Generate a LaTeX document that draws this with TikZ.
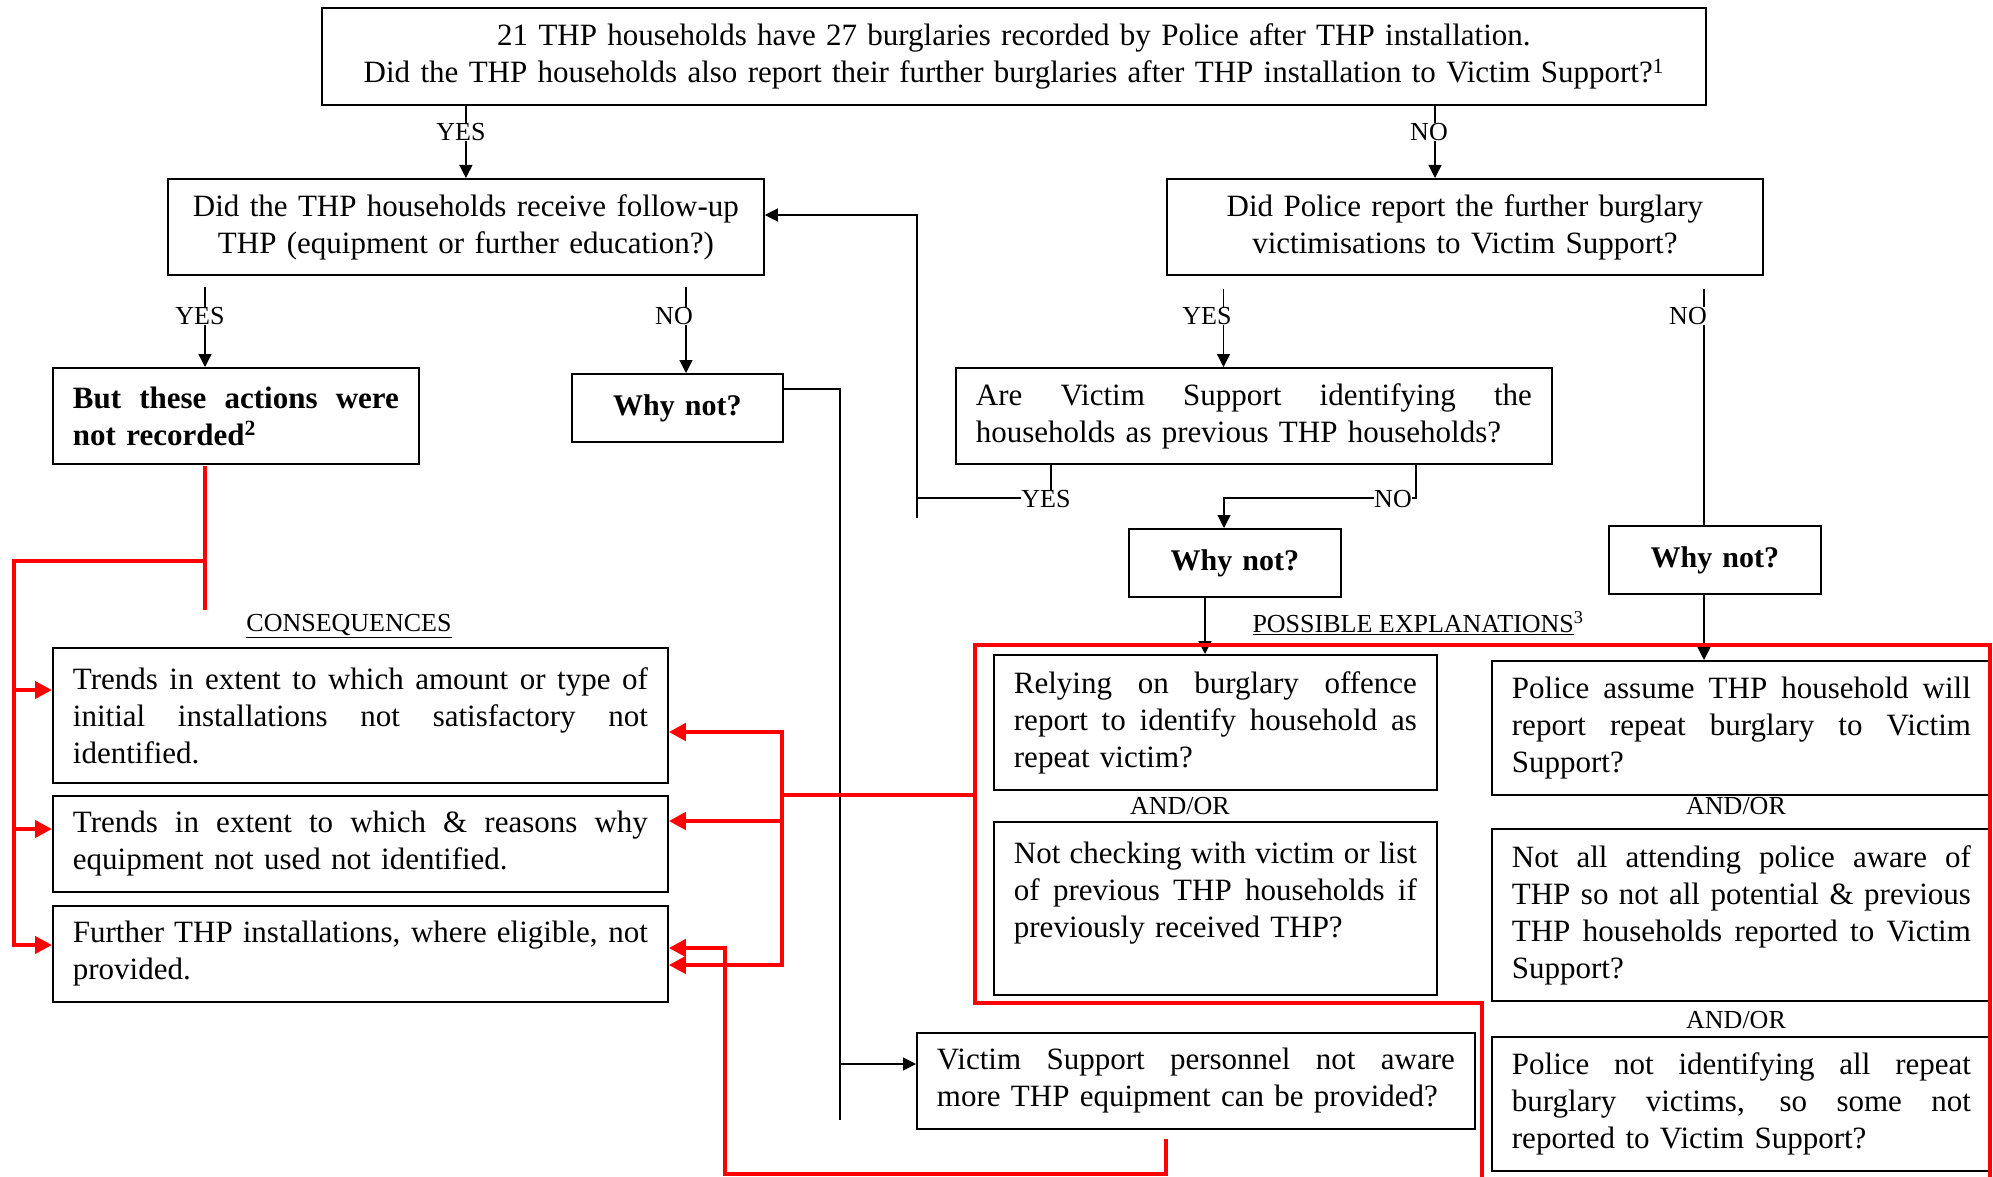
\documentclass[tikz,border=0pt]{standalone}
\usepackage{fontspec}
\setmainfont{Liberation Serif}
\usetikzlibrary{arrows.meta,calc}
\newcommand{\jl}[1]{{\spaceskip=0pt\xspaceskip=0pt\makebox[\linewidth][s]{#1}}}
\newcommand{\mfont}{\fontsize{31}{37}\selectfont}
\newcommand{\bfont}{\fontsize{30}{37}\selectfont\bfseries}
\newcommand{\lfont}{\fontsize{26}{30}\selectfont}
\definecolor{rd}{RGB}{255,0,0}
\tikzset{
  box/.style={draw, line width=1.8pt, inner xsep=20pt, inner ysep=0pt, anchor=north west, font=\mfont, align=left},
  cbox/.style={box, align=center},
  lbl/.style={font=\lfont, fill=white, inner sep=0pt},
  plbl/.style={font=\lfont, inner sep=0pt},
  conn/.style={line width=1.3pt},
  arr/.style={conn, -{Triangle[length=13pt,width=13pt]}},
  rline/.style={rd, line width=4.5pt, line cap=rect},
  rarr/.style={rd, line width=4.5pt, -{Triangle[length=17pt,width=17pt]}},
}
\begin{document}
\begin{tikzpicture}[x=1pt,y=-1pt]
\useasboundingbox (0,0) rectangle (1993,1177);
% ---- boxes
\node[cbox, text width=1344pt, minimum width=1384pt, minimum height=97pt] (top) at (321,7)
  {21 THP households have 27 burglaries recorded by Police after THP installation.\\Did the THP households also report their further burglaries after THP installation to Victim Support?\textsuperscript{1}};
\node[cbox, text width=556pt, minimum width=596pt, minimum height=96pt] (q2L) at (167,178)
  {Did the THP households receive follow-up\\THP (equipment or further education?)};
\node[cbox, text width=556pt, minimum width=596pt, minimum height=96pt] (q2R) at (1166,178)
  {Did Police report the further burglary\\victimisations to Victim Support?};
\node[box, font=\mfont\bfseries, text width=326pt, minimum width=366pt, minimum height=96pt] (but) at (52,367)
  {\jl{But these actions were}\\not recorded\textsuperscript{2}};
\node[cbox, font=\bfont, text width=171pt, minimum width=211pt, minimum height=68pt] (why1) at (571,373) {Why not?};
\node[box, text width=556pt, minimum width=596pt, minimum height=96pt] (are) at (955,367)
  {\jl{Are Victim Support identifying the}\\households as previous THP households?};
\node[cbox, font=\bfont, text width=172pt, minimum width=212pt, minimum height=68pt] (why2) at (1128,528) {Why not?};
\node[cbox, font=\bfont, text width=172pt, minimum width=212pt, minimum height=68pt] (why3) at (1608,525) {Why not?};
\node[box, text width=575pt, minimum width=615pt, minimum height=135pt] (t1) at (52,647)
  {\jl{Trends in extent to which amount or type of}\\\jl{initial installations not satisfactory not}\\identified.};
\node[box, text width=575pt, minimum width=615pt, minimum height=96pt] (t2) at (52,795)
  {\jl{Trends in extent to which \& reasons why}\\equipment not used not identified.};
\node[box, text width=575pt, minimum width=615pt, minimum height=96pt] (t3) at (52,905)
  {\jl{Further THP installations, where eligible, not}\\provided.};
\node[box, text width=403pt, minimum width=443pt, minimum height=135pt] (rel) at (993,654)
  {\jl{Relying on burglary offence}\\\jl{report to identify household as}\\repeat victim?};
\node[box, text width=403pt, minimum width=443pt, minimum height=173pt] (nc) at (993,821)
  {\jl{Not checking with victim or list}\\\jl{of previous THP households if}\\previously received THP?\\\mbox{}};
\node[box, text width=459pt, minimum width=499pt, minimum height=134pt] (pa) at (1491,660)
  {\jl{Police assume THP household will}\\\jl{report repeat burglary to Victim}\\Support?};
\node[box, text width=459pt, minimum width=499pt, minimum height=172pt] (na) at (1491,828)
  {\jl{Not all attending police aware of}\\\jl{THP so not all potential \& previous}\\\jl{THP households reported to Victim}\\Support?};
\node[box, text width=459pt, minimum width=499pt, minimum height=134pt] (pn) at (1491,1036)
  {\jl{Police not identifying all repeat}\\\jl{burglary victims, so some not}\\reported to Victim Support?};
\node[box, text width=518pt, minimum width=558pt, minimum height=96pt] (vs) at (916,1032)
  {\jl{Victim Support personnel not aware}\\more THP equipment can be provided?};
% ---- helper coordinates
\coordinate (xb) at (1435,0);
\coordinate (xc) at (205,0);
\coordinate (xd) at (686,0);
\coordinate (xe) at (1223.5,0);
\coordinate (xf) at (1704,0);
\coordinate (xg) at (1051,0);
\coordinate (xh) at (1416,0);
\coordinate (xi) at (917,518);
\coordinate (xj) at (1224,0);
\coordinate (xk) at (1205,0);
\coordinate (xl) at (840,1120);
\coordinate (r2) at (0,215);
\coordinate (r4) at (0,498);
\coordinate (r5) at (0,389);
\coordinate (r6) at (0,1064);
% ---- black connectors
\draw[arr] (q2L.north |- top.south) -- (q2L.north);
\draw[arr] (xb |- top.south) -- (xb |- q2R.north);
\draw[arr] (xc |- q2L.south) ++(0,11) -- (xc |- but.north);
\draw[arr] (xd |- q2L.south) ++(0,11) -- (xd |- why1.north);
\draw[arr] (xe |- q2R.south) ++(0,13) -- (xe |- are.north);
\draw[conn] (xf |- q2R.south) ++(0,13) -- (xf |- why3.north);
\draw[arr] (xf |- why3.south) -- (xf |- pa.north);
\draw[arr] (xg |- are.south) -- (xg |- r4) -- (xi |- r4) -- (xi |- r2) -- (q2L.east |- r2);
\draw[conn] (xi |- r4) -- (xi);
\draw[arr] (xh |- are.south) -- (xh |- r4) -- (xj |- r4) -- (xj |- why2.north);
\draw[arr] (xk |- why2.south) -- (xk |- rel.north);
\draw[conn] (why1.east |- r5) -- (xl |- r5) -- (xl);
\draw[arr] (xl |- r6) -- (vs.west |- r6);
% ---- red connectors
\draw[rline] (xc |- but.south) ++(0,3) -- (205,608);
\draw[rline] (205,561) -- (14,561) -- (14,945);
\draw[rarr] (14,690) -- (t1.west |- 0,690);
\draw[rarr] (14,829) -- (t2.west |- 0,829);
\draw[rarr] (14,945) -- (t3.west |- 0,945);
\draw[rline] (782,732) -- (782,965);
\draw[rarr] (782,732) -- (t1.east |- 0,732);
\draw[rarr] (782,821) -- (t2.east |- 0,821);
\draw[rarr] (782,965) -- (t3.east |- 0,965);
\draw[rline] (782,795) -- (975,795);
\draw[rline] (1482,1180) -- (1482,1003) -- (975,1003) -- (975,645) -- (1990,645) -- (1990,1180);
\draw[rarr] (vs.south west) ++(250,9) -- (1166,1174) -- (725,1174) -- (725,948) -- (t3.east |- 0,948);
% ---- labels
\node[lbl] (yes1) at (461,132) {YES};
\node[lbl] (no1) at (1429,132) {NO};
\node[lbl] (yes2) at (200,316) {YES};
\node[lbl] (no2) at (674,316) {NO};
\node[lbl] (yes3) at (1207,316) {YES};
\node[lbl] (no3) at (1688,316) {NO};
\node[lbl] (yes4) at (1046,499) {YES};
\node[lbl] (no4) at (1393,499) {NO};
\node[plbl] (cons) at (349,626) {\underline{CONSEQUENCES}};
\node[plbl] (poss) at (1418,623) {\underline{POSSIBLE EXPLANATIONS}\textsuperscript{3}};
\node[plbl] (ao1) at (1180,806) {AND/OR};
\node[plbl] (ao2) at (1736,806) {AND/OR};
\node[plbl] (ao3) at (1736,1020) {AND/OR};
\end{tikzpicture}
\end{document}
